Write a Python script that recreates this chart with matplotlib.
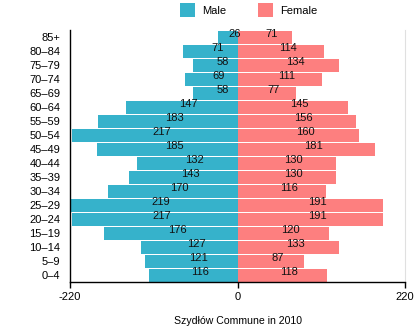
import matplotlib.pyplot as plt
import numpy as np

plt.rcParams['font.family'] = ['Liberation Sans', 'DejaVu Sans']

ages = ["0–4", "5–9", "10–14", "15–19", "20–24", "25–29", "30–34", "35–39",
        "40–44", "45–49", "50–54", "55–59", "60–64", "65–69", "70–74",
        "75–79", "80–84", "85+"]
male = [116, 121, 127, 176, 217, 219, 170, 143, 132, 185, 217, 183, 147,
        58, 69, 58, 71, 26]
female = [118, 87, 133, 120, 191, 191, 116, 130, 130, 181, 160, 156, 145,
          77, 111, 134, 114, 71]

MALE_C = "#36b2cb"
FEMALE_C = "#fd7f7f"

fig = plt.figure(figsize=(4.2, 3.31), dpi=100)
ax = fig.add_axes([0.167, 0.148, 0.797, 0.761])

y = np.arange(len(ages))
hm = ax.barh(y, [-v for v in male], height=0.93, color=MALE_C, label="Male")
hf = ax.barh(y, female, height=0.93, color=FEMALE_C, label="Female")

# value labels, nudged right and a bit above the bar centre
for i, (m, f) in enumerate(zip(male, female)):
    ax.annotate(str(m), (-m / 2, i), xytext=(5, 2), textcoords="offset points",
                ha="center", va="center", fontsize=8, color="#111111")
    ax.annotate(str(f), (f / 2, i), xytext=(5, 2), textcoords="offset points",
                ha="center", va="center", fontsize=8, color="#111111")

ax.set_xlim(-220, 220)
ax.set_ylim(-0.5, len(ages) - 0.5)
ax.set_xticks([-220, 0, 220])
ax.set_xticklabels(["-220", "0", "220"])
ax.set_yticks(y)
ax.set_yticklabels(ages)
ax.tick_params(axis="y", length=0, pad=7, labelsize=8)
ax.tick_params(axis="x", length=4, width=1, labelsize=8, pad=3)

ax.spines["top"].set_visible(False)
ax.spines["right"].set_color("#e0e0e0")
ax.spines["left"].set_linewidth(1)
ax.spines["bottom"].set_linewidth(1)

ax.set_xlabel("Szydłów Commune in 2010", fontsize=7.6, labelpad=10)

fig.legend(handles=[hm, hf], loc="upper center", bbox_to_anchor=(0.592, 1.02),
           ncol=2, frameon=False, fontsize=8, handlelength=1.35,
           handleheight=1.5, columnspacing=2.8, handletextpad=0.63)

fig.savefig("out.png", dpi=100)
